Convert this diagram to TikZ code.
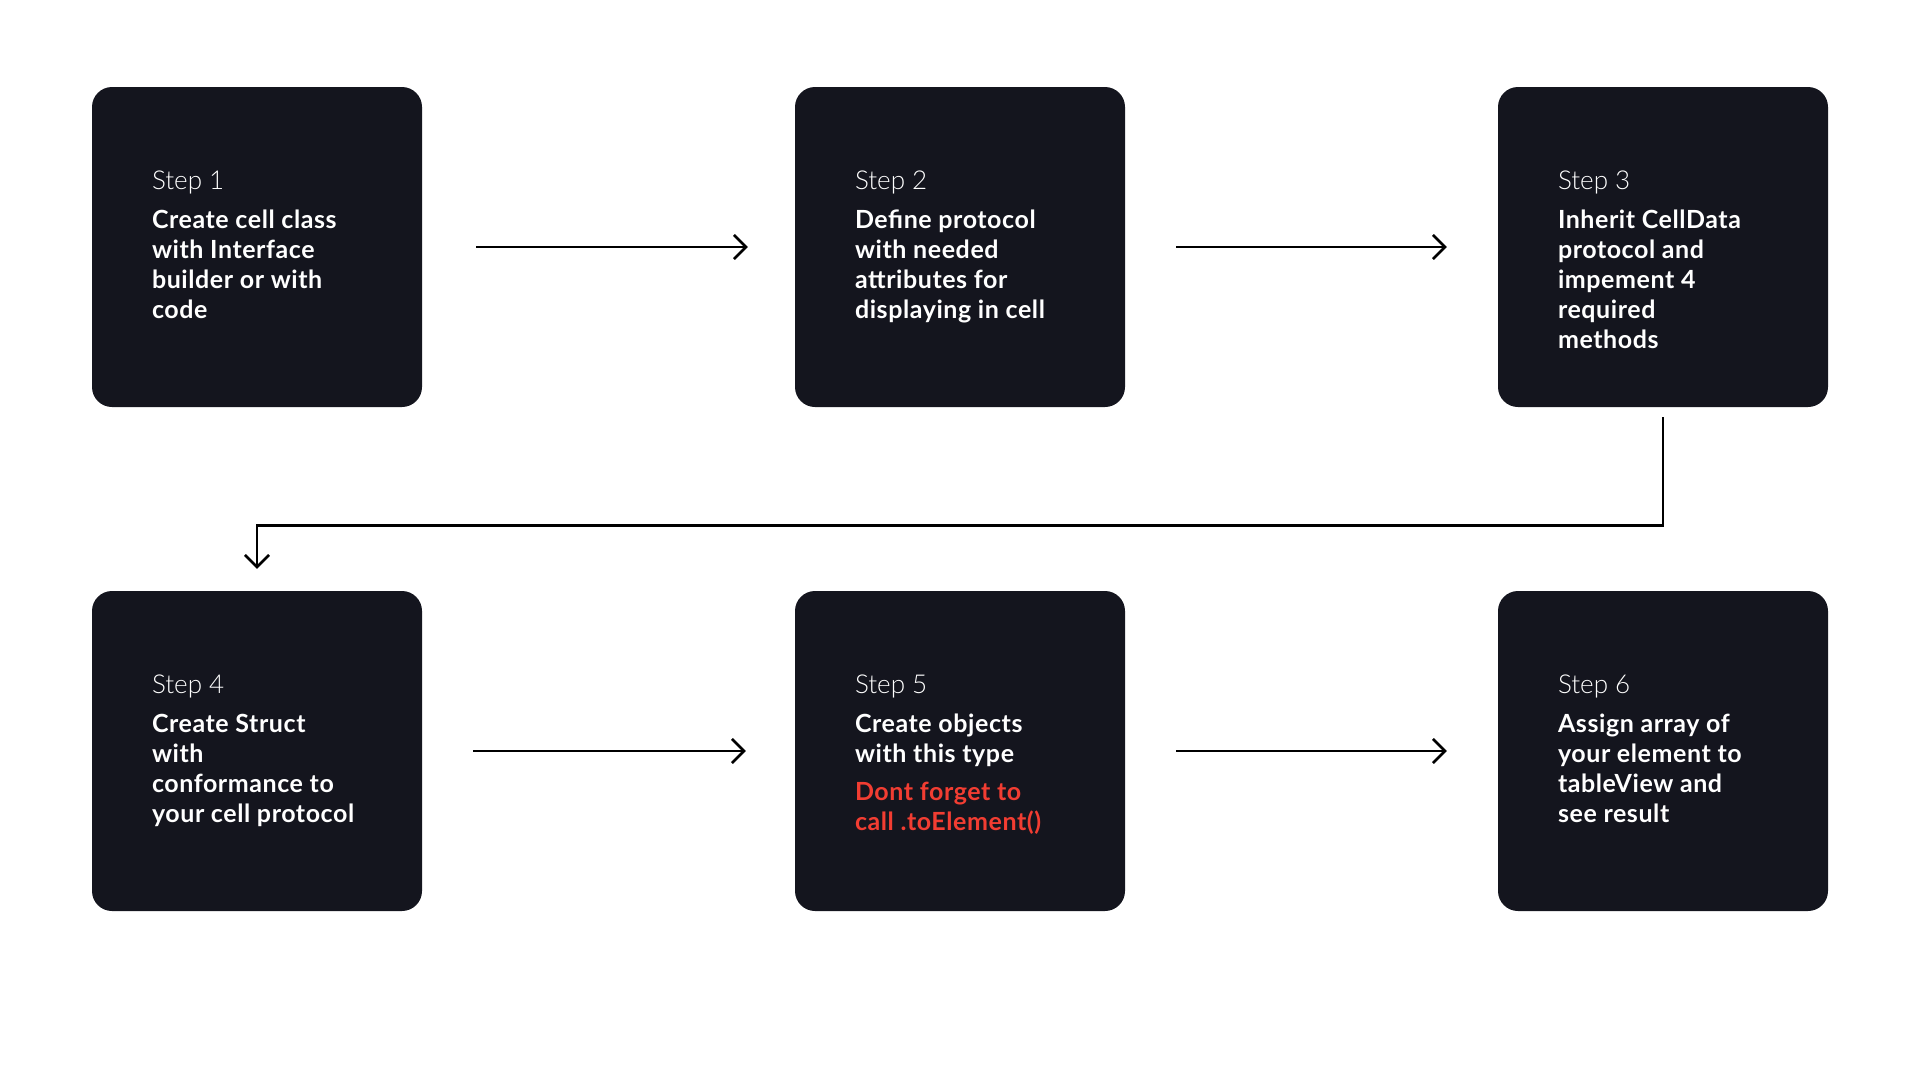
\documentclass[tikz,border=0pt]{standalone}
\usepackage{fontspec}
\setmainfont{Lato}[LetterSpace=2.3]
\newfontfamily\steplight{Lato Light}
\usetikzlibrary{arrows.meta}
\definecolor{boxbg}{HTML}{14151E}
\definecolor{warnred}{HTML}{F23D32}
\tikzset{
  stepbox/.style={rectangle, rounded corners=20pt, fill=boxbg, minimum width=330pt, minimum height=320pt, inner sep=0pt},
  steptext/.style={anchor=north west, inner sep=0pt, align=left, text=white, font=\fontsize{25}{30}\selectfont\bfseries},
  flow/.style={line width=2.6pt, -{Straight Barb[length=12pt,width=24pt,line width=2.6pt]}}
}
\newcommand{\steplabel}[1]{{\steplight\mdseries\fontsize{26}{30}\selectfont Step #1}\\[9pt]}
\begin{document}
\begin{tikzpicture}[x=1pt,y=-1pt]
\useasboundingbox (0,0) rectangle (1920,1080);
\node[stepbox] (s1) at (257,247) {};
\node[stepbox] (s2) at (960,247) {};
\node[stepbox] (s3) at (1663,247) {};
\node[stepbox] (s4) at (257,751) {};
\node[stepbox] (s5) at (960,751) {};
\node[stepbox] (s6) at (1663,751) {};
\node[steptext] (t1) at ([shift={(60,84)}]s1.north west) {\steplabel{1}Create cell class\\with Interface\\builder or with\\code};
\node[steptext] (t2) at ([shift={(60,84)}]s2.north west) {\steplabel{2}Define protocol\\with needed\\attributes for\\displaying in cell};
\node[steptext] (t3) at ([shift={(60,84)}]s3.north west) {\steplabel{3}Inherit CellData\\protocol and\\impement 4\\required\\methods};
\node[steptext] (t4) at ([shift={(60,84)}]s4.north west) {\steplabel{4}Create Struct\\with\\conformance to\\your cell protocol};
\node[steptext] (t5) at ([shift={(60,84)}]s5.north west) {\steplabel{5}Create objects\\with this type\\[8pt]\textcolor{warnred}{Dont forget to}\\\textcolor{warnred}{call .toElement()}};
\node[steptext] (t6) at ([shift={(60,84)}]s6.north west) {\steplabel{6}Assign array of\\your element to\\tableView and\\see result};
\draw[flow, shorten <=54pt, shorten >=47pt] (s1) -- (s2);
\draw[flow, shorten <=51pt, shorten >=51pt] (s2) -- (s3);
\draw[flow, shorten <=10pt, shorten >=22pt] (s3.south) -- ++(0,118) -| (s4.north);
\draw[flow, shorten <=51pt, shorten >=49pt] (s4) -- (s5);
\draw[flow, shorten <=51pt, shorten >=51pt] (s5) -- (s6);
\end{tikzpicture}
\end{document}
